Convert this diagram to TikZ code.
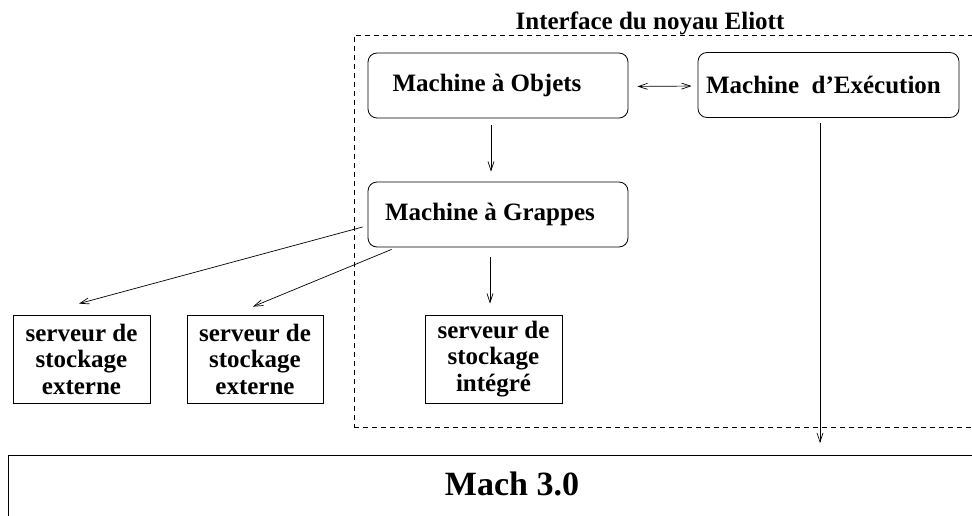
\documentclass[tikz,border=0pt]{standalone}
\usepackage{fontspec}
\setmainfont{Liberation Serif}
\usetikzlibrary{arrows.meta,calc}
\tikzset{
	machine/.style={draw, rounded corners=9pt, minimum height=65pt, font=\fontsize{25}{28}\selectfont\bfseries},
	serveur/.style={draw, minimum height=88pt, align=center, inner sep=0pt, font=\fontsize{25}{26.5}\selectfont\bfseries},
	fleche/.style={-{Straight Barb[length=9pt,width=6pt]}, line width=0.7pt}
}

\begin{document}
\begin{tikzpicture}[x=1pt, y=-1pt, line width=0.8pt]
	\useasboundingbox (0,0) rectangle (972,516);
	\clip (0,0) rectangle (972,516);

	% noyau Eliott
	\node[anchor=base, inner sep=0pt, font=\fontsize{25}{28}\selectfont\bfseries] (titre) at (650,30) {Interface du noyau Eliott};
	\node[draw, dash pattern=on 5pt off 4pt, minimum width=631pt, minimum height=392pt] (noyau) at (669.5,231) {};

	\node[machine, minimum width=260pt] (objets) at (498,85.5) {\hspace*{-22pt}Machine à Objets};
	\node[machine, minimum width=261pt] (exec) at (828.5,85) {\hspace*{-10pt}Machine~~d'Exécution};
	\node[machine, minimum width=260pt] (grappes) at (498,214.5) {\hspace*{-16pt}Machine à Grappes};

	\node[serveur, minimum width=137pt] (ext1) at (81.5,359) {serveur de\\stockage\\externe};
	\node[serveur, minimum width=136pt] (ext2) at (255,359) {serveur de\\stockage\\externe};
	\node[serveur, minimum width=137pt] (integ) at (493.5,359) {serveur de\\stockage\\intégré};

	% Mach
	\node[draw, minimum width=1008pt, minimum height=80pt, text depth=23pt, font=\fontsize{34}{38}\selectfont\bfseries] (mach) at (512,495) {Mach 3.0};
	\coordinate (bout) at (820,443);

	\draw[fleche, {Straight Barb[length=9pt,width=6pt]}-{Straight Barb[length=9pt,width=6pt]}, shorten <=9pt, shorten >=6pt] ([yshift=-1pt]objets.east) -- ([yshift=-1pt]exec.west);
	\draw[fleche, shorten <=7pt, shorten >=10pt] ([xshift=-7pt]objets.south) -- ([xshift=-7pt]grappes.north);
	\draw[fleche, shorten <=10pt, shorten >=11pt] ([xshift=-8pt]grappes.south) -- ([xshift=-3.5pt]integ.north);
	\draw[fleche] ([xshift=-5pt,yshift=-12.5pt]grappes.west) -- ([xshift=-2.5pt,yshift=11pt]ext1.north);
	\draw[fleche] ([xshift=24pt,yshift=-2pt]grappes.south west) -- ([xshift=-2pt,yshift=8pt]ext2.north);
	\draw[fleche, shorten <=5pt] ([xshift=-8.5pt]exec.south) -- (bout);
\end{tikzpicture}
\end{document}
